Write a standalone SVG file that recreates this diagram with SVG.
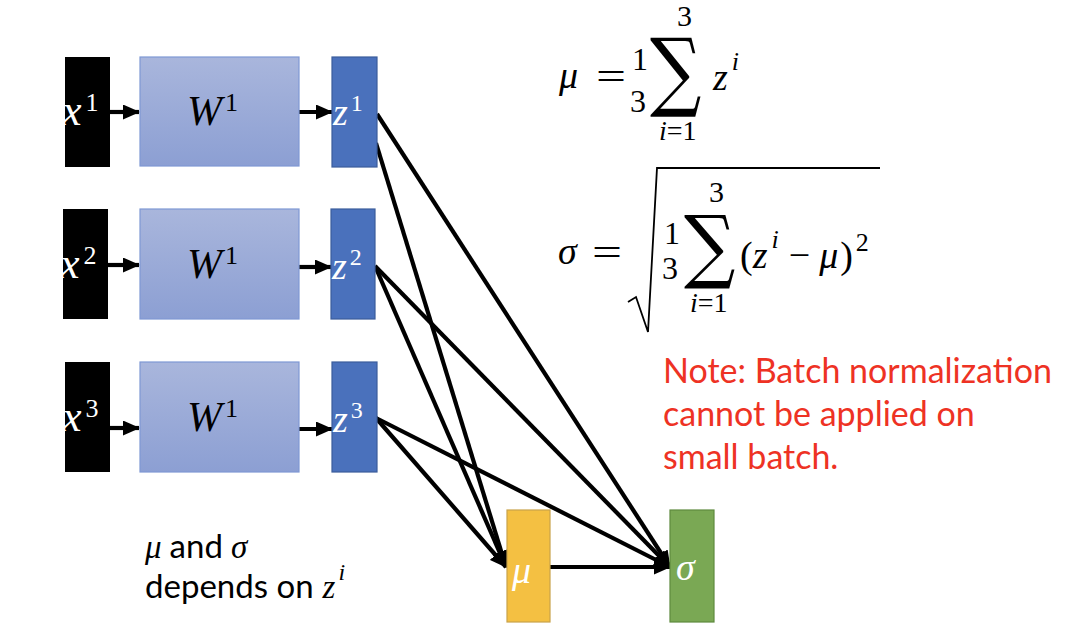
<svg xmlns="http://www.w3.org/2000/svg" width="1080" height="643" viewBox="0 0 1080 643">
<style>
.m{font-family:"Liberation Serif","DejaVu Serif",serif;}
.it{font-style:italic;}
.wl{fill:#ffffff;}
.bk{fill:#000000;}
.xbox{fill:#000000;}
.wbox{fill:url(#wg);stroke:#7f98d4;stroke-width:1.2;}
.zbox{fill:#4a71bc;stroke:#3b5d9c;stroke-width:1.2;}
.con{stroke:#000;stroke-width:4.2;fill:none;}
.txt{font-family:Lato,"Liberation Sans",sans-serif;}
.note{fill:#ee3224;font-size:34px;}
.sig{font-family:"DejaVu Serif",serif;font-size:72px;}
</style>
<defs>
<linearGradient id="wg" x1="0" y1="0" x2="0" y2="1">
<stop offset="0" stop-color="#a9b6dc"/>
<stop offset="1" stop-color="#8c9fd3"/>
</linearGradient>
<marker id="ah" markerUnits="userSpaceOnUse" markerWidth="17" markerHeight="15" refX="16" refY="7.5" orient="auto">
<path d="M0,0 L17,7.5 L0,15 Z" fill="#000"/>
</marker>
</defs>

<g id="connectors">
<line class="con" x1="110" y1="112" x2="139" y2="112" marker-end="url(#ah)"/>
<line class="con" x1="299" y1="112" x2="332" y2="112" marker-end="url(#ah)"/>
<line class="con" x1="108" y1="265" x2="139" y2="265" marker-end="url(#ah)"/>
<line class="con" x1="299" y1="267" x2="331" y2="267" marker-end="url(#ah)"/>
<line class="con" x1="110" y1="428" x2="139" y2="428" marker-end="url(#ah)"/>
<line class="con" x1="299" y1="429" x2="332" y2="429" marker-end="url(#ah)"/>
<line class="con" x1="377" y1="114" x2="670" y2="567" marker-end="url(#ah)"/>
<line class="con" x1="376" y1="143" x2="506" y2="567" marker-end="url(#ah)"/>
<line class="con" x1="375" y1="266" x2="506" y2="567" marker-end="url(#ah)"/>
<line class="con" x1="375" y1="266" x2="670" y2="567" marker-end="url(#ah)"/>
<line class="con" x1="376" y1="418" x2="506" y2="567" marker-end="url(#ah)"/>
<line class="con" x1="376" y1="418" x2="670" y2="567" marker-end="url(#ah)"/>
<line class="con" x1="550" y1="567" x2="670" y2="567" marker-end="url(#ah)"/>
</g>

<g id="x1"><rect class="xbox" x="65" y="57" width="45" height="110"/>
<text class="m wl" x="62" y="125"><tspan class="it" font-size="44">x</tspan><tspan font-size="26" dx="4" dy="-14">1</tspan></text></g>
<g id="w1"><rect class="wbox" x="140" y="57" width="159" height="109"/>
<text class="m bk" x="187" y="125"><tspan class="it" font-size="42">W</tspan><tspan font-size="26" dx="3" dy="-14">1</tspan></text></g>
<g id="z1"><rect class="zbox" x="332" y="57" width="45" height="110"/>
<text class="m wl" x="333" y="125"><tspan class="it" font-size="38">z</tspan><tspan font-size="24" dx="3" dy="-14">1</tspan></text></g>

<g id="x2"><rect class="xbox" x="63" y="209" width="45" height="110"/>
<text class="m wl" x="60" y="278"><tspan class="it" font-size="44">x</tspan><tspan font-size="26" dx="4" dy="-14">2</tspan></text></g>
<g id="w2"><rect class="wbox" x="140" y="209" width="159" height="110"/>
<text class="m bk" x="187" y="278"><tspan class="it" font-size="42">W</tspan><tspan font-size="26" dx="3" dy="-14">1</tspan></text></g>
<g id="z2"><rect class="zbox" x="331" y="209" width="44" height="110"/>
<text class="m wl" x="332" y="279"><tspan class="it" font-size="38">z</tspan><tspan font-size="24" dx="3" dy="-14">2</tspan></text></g>

<g id="x3"><rect class="xbox" x="65" y="362" width="45" height="110"/>
<text class="m wl" x="62" y="431"><tspan class="it" font-size="44">x</tspan><tspan font-size="26" dx="4" dy="-14">3</tspan></text></g>
<g id="w3"><rect class="wbox" x="140" y="362" width="159" height="110"/>
<text class="m bk" x="187" y="431"><tspan class="it" font-size="42">W</tspan><tspan font-size="26" dx="3" dy="-14">1</tspan></text></g>
<g id="z3"><rect class="zbox" x="332" y="362" width="45" height="110"/>
<text class="m wl" x="333" y="432"><tspan class="it" font-size="38">z</tspan><tspan font-size="24" dx="3" dy="-14">3</tspan></text></g>

<g id="mu"><rect x="507" y="510" width="43" height="112" fill="#f4c042" stroke="#c9a24a" stroke-width="1.2"/>
<text class="m it wl" x="512" y="583" font-size="38">μ</text></g>
<g id="sigma"><rect x="670" y="510" width="44" height="112" fill="#7aa854" stroke="#5e8a3e" stroke-width="1.2"/>
<text class="m it wl" x="676" y="580" font-size="38">σ</text></g>

<g id="formula-mu" class="m bk">
<text x="559" y="88" font-size="38" class="it">μ</text>
<text x="596" y="90" font-size="40" textLength="30" lengthAdjust="spacingAndGlyphs">=</text>
<text x="632" y="70" font-size="32">1</text>
<text x="630" y="112" font-size="32">3</text>
<text class="sig" transform="translate(650,100) scale(1,1.2)">∑</text>
<text x="677" y="26" font-size="30">3</text>
<text x="659" y="140" font-size="28"><tspan class="it">i</tspan>=1</text>
<text x="713" y="90" font-size="38"><tspan class="it">z</tspan><tspan class="it" font-size="26" dx="4" dy="-20">i</tspan></text>
</g>

<g id="formula-sigma" class="m bk">
<text x="558" y="264" font-size="38" class="it">σ</text>
<text x="592" y="266" font-size="40" textLength="30" lengthAdjust="spacingAndGlyphs">=</text>
<path d="M628,302 L636,297 L648,332 L657,168 L880,168" fill="none" stroke="#000" stroke-width="1.8"/>
<text x="664" y="244" font-size="32">1</text>
<text x="662" y="279" font-size="32">3</text>
<text class="sig" transform="translate(684,273) scale(1,1.12)">∑</text>
<text x="709" y="202" font-size="30">3</text>
<text x="690" y="312" font-size="28"><tspan class="it">i</tspan>=1</text>
<text x="740" y="268" font-size="38">(<tspan class="it">z</tspan><tspan class="it" font-size="26" dx="4" dy="-20">i</tspan><tspan dx="10" dy="20">−</tspan><tspan class="it" dx="9">μ</tspan><tspan dx="2">)</tspan><tspan font-size="26" dx="3" dy="-17">2</tspan></text>
</g>

<g id="note" class="txt note">
<text x="663" y="383">Note: Batch normalization</text>
<text x="663" y="426">cannot be applied on</text>
<text x="663" y="469">small batch.</text>
</g>

<g id="caption" fill="#000">
<text y="558" font-size="33"><tspan x="145" class="m it">μ</tspan><tspan class="txt" dx="8">and</tspan><tspan class="m it" dx="8">σ</tspan></text>
<text y="598" font-size="33"><tspan x="145" class="txt">depends on</tspan><tspan class="m it" dx="9">z</tspan><tspan class="m it" font-size="24" dx="3" dy="-18">i</tspan></text>
</g>
</svg>
